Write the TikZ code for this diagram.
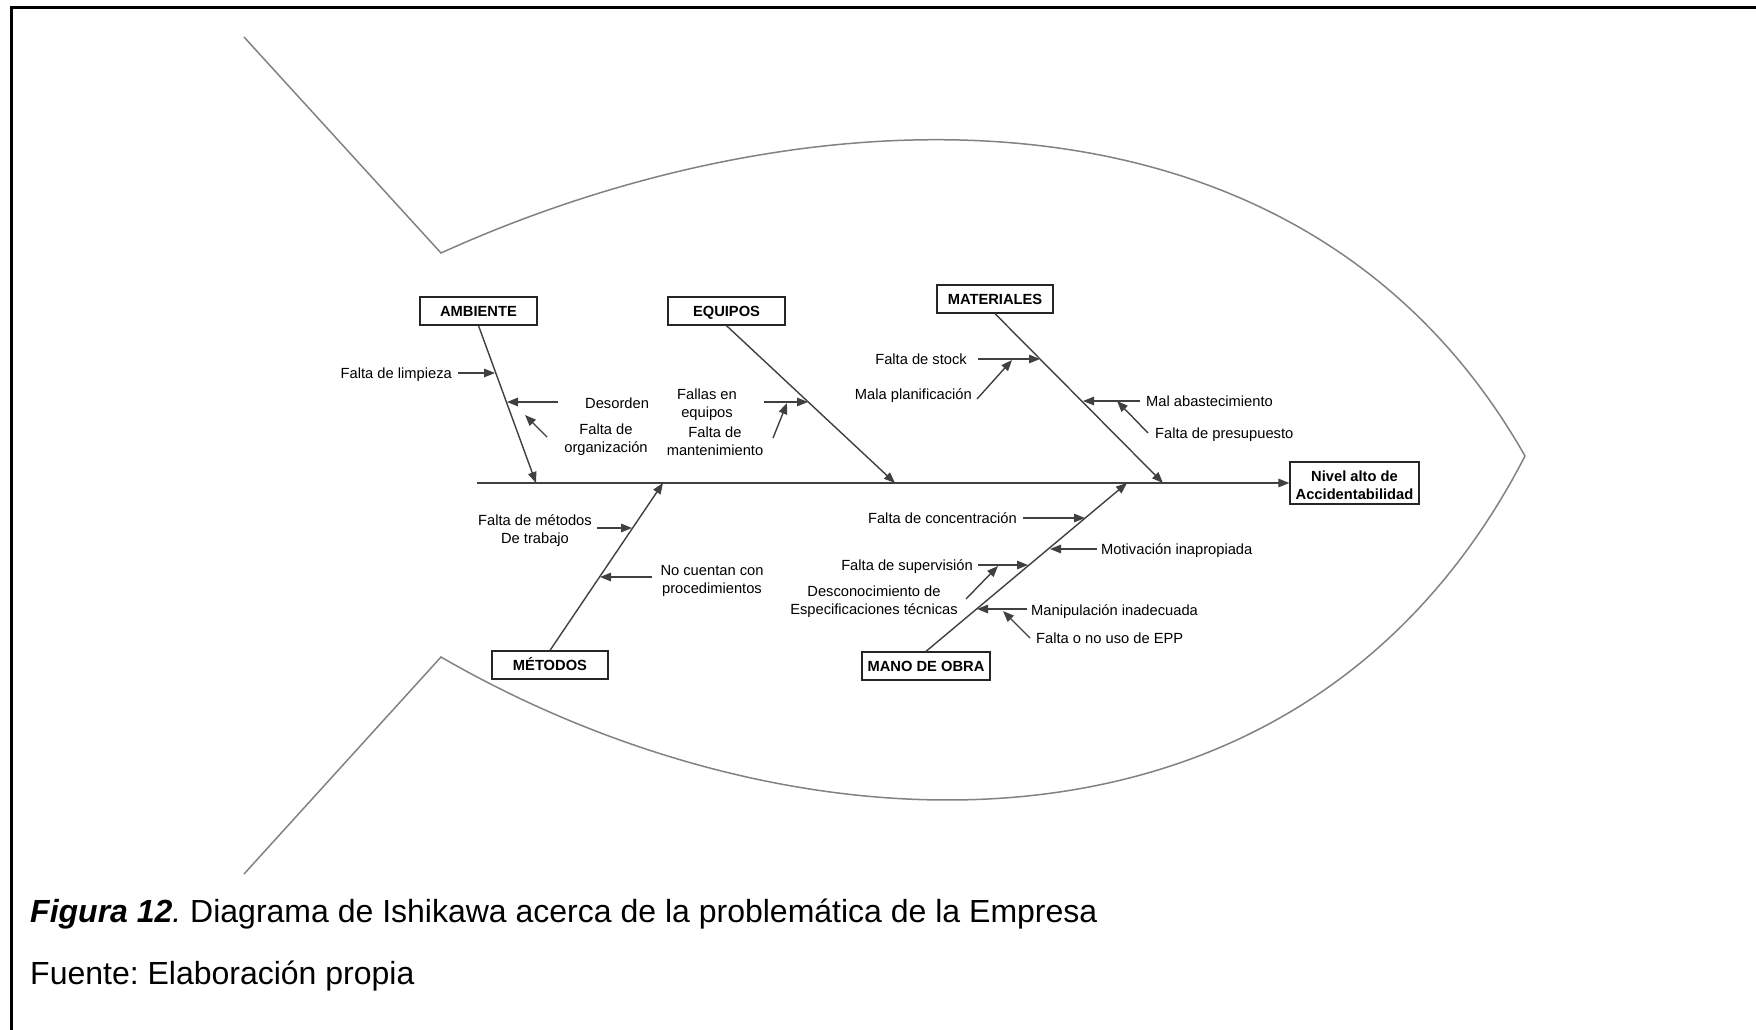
\documentclass[tikz,border=0pt]{standalone}
\usepackage{fontspec}
\setmainfont{Liberation Sans}
\usetikzlibrary{arrows.meta}
\definecolor{darkln}{RGB}{64,64,64}
\definecolor{fishgray}{RGB}{130,130,130}
\frenchspacing
\begin{document}
\frenchspacing
\begin{tikzpicture}[x=1pt,y=-1pt,
  lbl/.style={font=\fontsize{14.7}{18}\selectfont, inner sep=0pt, text=black, yshift=-3pt},
  mlbl/.style={lbl, align=center},
  boxbase/.style={draw=black!85, line width=1.3pt, font=\fontsize{14.7}{18}\selectfont\bfseries, inner sep=0pt, align=center},
  box/.style={boxbase, minimum height=28pt, text height=13.5pt, text depth=3pt},
  arr/.style={draw=darkln, line width=1.4pt, -{Triangle[length=11pt,width=8.5pt]}},
  fish/.style={draw=fishgray, line width=1.5pt},
  capt/.style={font=\fontsize{32}{38}\selectfont, inner sep=0pt, anchor=mid west}]
\useasboundingbox (0,0) rectangle (1756,1029);
\fill[white] (0,0) rectangle (1756,1029);
% frame
\draw[line width=3pt, line cap=rect] (11.5,1029) -- (11.5,7.5) -- (1756,7.5);

% fish outline
\coordinate (ta) at (244,37);
\coordinate (tv1) at (441,253);
\coordinate (nose) at (1525,456);
\coordinate (tv2) at (441,657);
\coordinate (tb) at (244,874);
\draw[fish, line join=miter] (ta) -- (tv1) .. controls (800,90) and (1300,60) .. (nose)
  .. controls (1300,892) and (790,859) .. (tv2) -- (tb);

% boxes
\node[box, minimum width=117pt] (amb) at (478.5,311) {AMBIENTE};
\node[box, minimum width=117pt] (eq) at (726.5,311) {EQUIPOS};
\node[box, minimum width=116pt] (mat) at (995,299) {MATERIALES};
\node[box, minimum width=116pt] (met) at (550,665) {MÉTODOS};
\node[box, minimum width=128pt] (mo) at (926,666) {MANO DE OBRA};
\node[boxbase, minimum width=129pt, minimum height=42pt] (niv) at (1354.5,483) {};
\node[font=\fontsize{14.7}{18}\selectfont\bfseries, inner sep=0pt, align=center] (nivt) at ([yshift=-2.5pt]niv.center) {Nivel alto de\\Accidentabilidad};

% main spine and bones
\coordinate (s0) at (477,483);
\coordinate (a1) at (536,483);
\coordinate (e1) at (895,483);
\coordinate (m1) at (1163,483);
\coordinate (t1) at (663,483);
\coordinate (o1) at (1127,483);
\draw[arr] (s0) -- (niv.west);
\draw[arr] (amb.south) -- (a1);
\draw[arr] (eq.south) -- (e1);
\draw[arr] (mat.south) -- (m1);
\draw[arr] (met.north) -- (t1);
\draw[arr] (mo.north) -- (o1);

% labels
\node[lbl, anchor=mid east] (l1) at (452,373) {Falta de limpieza};
\node[lbl, anchor=mid west] (l2) at (585,403) {Desorden};
\node[mlbl] (l3) at (606,437) {Falta de\\organización};
\node[mlbl] (l4) at (707,402) {Fallas en\\equipos};
\node[mlbl] (l5) at (715,438) {Falta de\\mantenimiento};
\node[lbl, anchor=mid east] (l6) at (967,359) {Falta de stock};
\node[lbl, anchor=mid east] (l7) at (972,394) {Mala planificación};
\node[lbl, anchor=mid west] (l8) at (1146,401) {Mal abastecimiento};
\node[lbl, anchor=mid west] (l9) at (1155,433) {Falta de presupuesto};
\node[lbl, anchor=mid east] (l10) at (1017,518) {Falta de concentración};
\node[lbl, anchor=mid west] (l11) at (1101,549) {Motivación inapropiada};
\node[lbl, anchor=mid east] (l12) at (973,565) {Falta de supervisión};
\node[mlbl] (l13) at (874,599) {Desconocimiento de\\Especificaciones técnicas};
\node[lbl, anchor=mid west] (l14) at (1031,610) {Manipulación inadecuada};
\node[lbl, anchor=mid west] (l15) at (1036,638) {Falta o no uso de EPP};
\node[mlbl] (l16) at (535,528) {Falta de métodos\\De trabajo};
\node[mlbl] (l17) at (712,578) {No cuentan con\\procedimientos};

% sub-cause arrows
\coordinate (c1a) at (458,373);  \coordinate (c1b) at (495,373);
\coordinate (c2a) at (558,402);  \coordinate (c2b) at (507,402);
\coordinate (c3a) at (547,437);  \coordinate (c3b) at (525,415);
\coordinate (c4a) at (764,402);  \coordinate (c4b) at (808,402);
\coordinate (c5a) at (773,438);  \coordinate (c5b) at (787,403);
\coordinate (c6a) at (978,359);  \coordinate (c6b) at (1040,359);
\coordinate (c7a) at (977,399);  \coordinate (c7b) at (1012,360);
\coordinate (c8a) at (1140,401); \coordinate (c8b) at (1083,401);
\coordinate (c9a) at (1148,433); \coordinate (c9b) at (1117,401);
\coordinate (c10a) at (1023,518); \coordinate (c10b) at (1085,518);
\coordinate (c11a) at (1097,549); \coordinate (c11b) at (1050,549);
\coordinate (c12a) at (978,565);  \coordinate (c12b) at (1028,565);
\coordinate (c13a) at (966,599);  \coordinate (c13b) at (998,566);
\coordinate (c14a) at (1027,609); \coordinate (c14b) at (977,609);
\coordinate (c15a) at (1030,638); \coordinate (c15b) at (1003,611);
\coordinate (c16a) at (597,528);  \coordinate (c16b) at (632,528);
\coordinate (c17a) at (652,577);  \coordinate (c17b) at (600,577);
\foreach \i in {1,...,17} {\draw[arr] (c\i a) -- (c\i b);}

% caption
\node[capt] (cap1) at (30,920) {\textbf{\textit{Figura 12}}\textit{.} Diagrama de Ishikawa acerca de la problemática de la Empresa};
\node[capt] (cap2) at (30,982) {Fuente: Elaboración propia};
\end{tikzpicture}
\end{document}
